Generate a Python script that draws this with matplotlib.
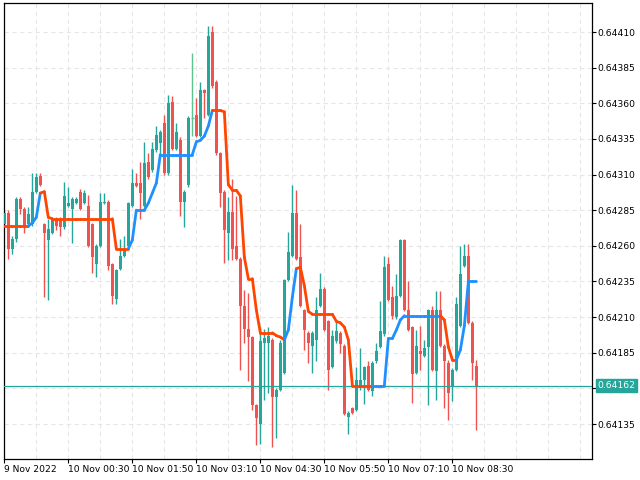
import matplotlib
matplotlib.use("Agg")
import matplotlib.pyplot as plt
import numpy as np
from matplotlib.collections import LineCollection

# ---- data (EURUSD-like M5 bars) ----
opens = [0.64275, 0.64283, 0.64258, 0.64265, 0.64293, 0.64286, 0.64275, 0.64275, 0.64298, 0.64309,
         0.64275, 0.64264, 0.64269, 0.64279, 0.64279, 0.64273, 0.64288, 0.64286, 0.64290, 0.64298,
         0.64290, 0.64288, 0.64275, 0.64247, 0.64260, 0.64290, 0.64291, 0.64247, 0.64223, 0.64244,
         0.64253, 0.64260, 0.64288, 0.64304, 0.64304, 0.64288, 0.64319, 0.64313, 0.64327, 0.64332,
         0.64346, 0.64311, 0.64361, 0.64328, 0.64334, 0.64291, 0.64303, 0.64350, 0.64352, 0.64337,
         0.64369, 0.64352, 0.64410, 0.64375, 0.64325, 0.64298, 0.64269, 0.64284, 0.64260, 0.64251,
         0.64218, 0.64202, 0.64196, 0.64148, 0.64135, 0.64192, 0.64192, 0.64194, 0.64154, 0.64159,
         0.64171, 0.64236, 0.64253, 0.64283, 0.64252, 0.64215, 0.64199, 0.64190, 0.64194, 0.64218,
         0.64230, 0.64207, 0.64175, 0.64193, 0.64199, 0.64190, 0.64140, 0.64146, 0.64145, 0.64160,
         0.64166, 0.64176, 0.64158, 0.64179, 0.64189, 0.64198, 0.64247, 0.64224, 0.64210, 0.64225,
         0.64264, 0.64215, 0.64203, 0.64171, 0.64186, 0.64183, 0.64189, 0.64215, 0.64172, 0.64215,
         0.64190, 0.64178, 0.64162, 0.64173, 0.64204, 0.64246, 0.64253, 0.64206, 0.64176]
highs = [0.64285, 0.64285, 0.64267, 0.64294, 0.64294, 0.64287, 0.64287, 0.64311, 0.64311, 0.64311,
         0.64276, 0.64279, 0.64280, 0.64280, 0.64280, 0.64305, 0.64301, 0.64294, 0.64294, 0.64300,
         0.64299, 0.64296, 0.64276, 0.64261, 0.64297, 0.64297, 0.64292, 0.64248, 0.64244, 0.64265,
         0.64267, 0.64291, 0.64314, 0.64311, 0.64319, 0.64333, 0.64325, 0.64333, 0.64344, 0.64341,
         0.64352, 0.64366, 0.64365, 0.64346, 0.64336, 0.64299, 0.64351, 0.64395, 0.64364, 0.64375,
         0.64370, 0.64414, 0.64414, 0.64376, 0.64326, 0.64299, 0.64294, 0.64307, 0.64295, 0.64252,
         0.64229, 0.64227, 0.64197, 0.64149, 0.64203, 0.64202, 0.64203, 0.64195, 0.64160, 0.64194,
         0.64237, 0.64270, 0.64303, 0.64299, 0.64275, 0.64216, 0.64200, 0.64200, 0.64224, 0.64241,
         0.64231, 0.64208, 0.64201, 0.64207, 0.64200, 0.64191, 0.64144, 0.64147, 0.64175, 0.64188,
         0.64176, 0.64179, 0.64179, 0.64192, 0.64221, 0.64253, 0.64252, 0.64232, 0.64240, 0.64265,
         0.64265, 0.64235, 0.64204, 0.64201, 0.64204, 0.64194, 0.64216, 0.64218, 0.64228, 0.64228,
         0.64191, 0.64180, 0.64174, 0.64224, 0.64260, 0.64261, 0.64261, 0.64207, 0.64180]
lows = [0.64274, 0.64251, 0.64254, 0.64263, 0.64282, 0.64269, 0.64273, 0.64274, 0.64297, 0.64302,
        0.64224, 0.64222, 0.64268, 0.64271, 0.64267, 0.64272, 0.64287, 0.64262, 0.64289, 0.64285,
        0.64289, 0.64259, 0.64241, 0.64238, 0.64259, 0.64289, 0.64243, 0.64219, 0.64219, 0.64243,
        0.64252, 0.64259, 0.64287, 0.64301, 0.64279, 0.64287, 0.64307, 0.64312, 0.64326, 0.64324,
        0.64310, 0.64310, 0.64327, 0.64327, 0.64281, 0.64273, 0.64301, 0.64337, 0.64336, 0.64336,
        0.64350, 0.64351, 0.64371, 0.64324, 0.64287, 0.64248, 0.64250, 0.64250, 0.64250, 0.64173,
        0.64192, 0.64165, 0.64145, 0.64120, 0.64121, 0.64152, 0.64157, 0.64119, 0.64125, 0.64158,
        0.64170, 0.64235, 0.64252, 0.64250, 0.64217, 0.64187, 0.64178, 0.64171, 0.64179, 0.64217,
        0.64200, 0.64159, 0.64174, 0.64192, 0.64185, 0.64141, 0.64128, 0.64142, 0.64144, 0.64159,
        0.64149, 0.64158, 0.64155, 0.64178, 0.64188, 0.64197, 0.64221, 0.64209, 0.64209, 0.64224,
        0.64214, 0.64200, 0.64150, 0.64170, 0.64173, 0.64182, 0.64148, 0.64172, 0.64152, 0.64189,
        0.64146, 0.64138, 0.64151, 0.64172, 0.64203, 0.64245, 0.64205, 0.64166, 0.64131]
closes = [0.64283, 0.64258, 0.64265, 0.64293, 0.64286, 0.64274, 0.64282, 0.64298, 0.64308, 0.64303,
          0.64269, 0.64272, 0.64279, 0.64274, 0.64273, 0.64295, 0.64290, 0.64293, 0.64293, 0.64286,
          0.64297, 0.64260, 0.64252, 0.64260, 0.64291, 0.64291, 0.64246, 0.64225, 0.64243, 0.64253,
          0.64258, 0.64290, 0.64304, 0.64302, 0.64297, 0.64318, 0.64308, 0.64328, 0.64338, 0.64340,
          0.64311, 0.64360, 0.64328, 0.64340, 0.64291, 0.64298, 0.64350, 0.64350, 0.64337, 0.64369,
          0.64367, 0.64407, 0.64372, 0.64325, 0.64297, 0.64271, 0.64284, 0.64258, 0.64251, 0.64218,
          0.64202, 0.64196, 0.64148, 0.64139, 0.64193, 0.64195, 0.64197, 0.64154, 0.64159, 0.64192,
          0.64236, 0.64256, 0.64283, 0.64251, 0.64218, 0.64201, 0.64192, 0.64199, 0.64215, 0.64230,
          0.64201, 0.64173, 0.64197, 0.64200, 0.64191, 0.64142, 0.64143, 0.64143, 0.64166, 0.64166,
          0.64175, 0.64159, 0.64178, 0.64186, 0.64200, 0.64245, 0.64222, 0.64211, 0.64225, 0.64264,
          0.64215, 0.64201, 0.64170, 0.64190, 0.64184, 0.64188, 0.64215, 0.64173, 0.64215, 0.64190,
          0.64179, 0.64157, 0.64173, 0.64219, 0.64240, 0.64253, 0.64206, 0.64178, 0.64162]

# step-like trend indicator, one value per bar
indicator = [0.64274, 0.64274, 0.64274, 0.64274, 0.64274, 0.64274, 0.64274, 0.64276, 0.64280, 0.64297,
             0.64298, 0.64280, 0.64279, 0.64279, 0.64279, 0.64279, 0.64279, 0.64279, 0.64279, 0.64279,
             0.64279, 0.64279, 0.64279, 0.64279, 0.64279, 0.64279, 0.64279, 0.64279, 0.64258, 0.64258,
             0.64258, 0.64258, 0.64264, 0.64285, 0.64285, 0.64285, 0.64290, 0.64297, 0.64304, 0.64324,
             0.64324, 0.64324, 0.64324, 0.64324, 0.64324, 0.64324, 0.64324, 0.64324, 0.64333, 0.64334,
             0.64337, 0.64344, 0.64355, 0.64355, 0.64355, 0.64354, 0.64303, 0.64299, 0.64299, 0.64295,
             0.64252, 0.64237, 0.64237, 0.64215, 0.64199, 0.64199, 0.64199, 0.64199, 0.64197, 0.64196,
             0.64194, 0.64201, 0.64224, 0.64244, 0.64245, 0.64232, 0.64214, 0.64212, 0.64212, 0.64212,
             0.64212, 0.64212, 0.64212, 0.64207, 0.64206, 0.64203, 0.64194, 0.64162, 0.64162, 0.64162,
             0.64162, 0.64162, 0.64162, 0.64162, 0.64162, 0.64162, 0.64195, 0.64195, 0.64201, 0.64208,
             0.64211, 0.64211, 0.64211, 0.64211, 0.64211, 0.64211, 0.64211, 0.64211, 0.64211, 0.64211,
             0.64208, 0.64189, 0.64180, 0.64180, 0.64187, 0.64204, 0.64235, 0.64235, 0.64235]
# trend state per bar as run lengths: d = down (orange), u = up (blue)
trend_runs = [("d", 7), ("u", 3), ("d", 22), ("u", 21), ("d", 18), ("u", 3),
              ("d", 19), ("u", 17), ("d", 4), ("u", 5)]

last_price = 0.64162
time_tick_bars = [0, 16, 32, 48, 64, 80, 96, 112]
time_tick_labels = ["9 Nov 2022", "10 Nov 00:30", "10 Nov 01:50", "10 Nov 03:10",
                    "10 Nov 04:30", "10 Nov 05:50", "10 Nov 07:10", "10 Nov 08:30"]
price_ticks = [0.64135, 0.64160, 0.64185, 0.64210, 0.64235, 0.64260, 0.64285,
               0.64310, 0.64335, 0.64360, 0.64385, 0.64410]

# ---- drawing ----
GREEN = "#26a69a"
RED = "#ef5350"
ORANGE = "#ff4500"
BLUE = "#1e90ff"

O = np.array(opens); H = np.array(highs); L = np.array(lows); C = np.array(closes)
n = len(O)
x = np.arange(n)
trend = "".join(s * k for s, k in trend_runs)

fig = plt.figure(figsize=(6.4, 4.8), dpi=100)
ax = fig.add_axes([3.5 / 640, 21 / 480, 588.5 / 640, 456 / 480])
ax.set_xlim(-0.2, 146.9)
ax.set_ylim(0.6411046, 0.6443035)

# grid
for gx in range(0, 147, 8):
    ax.axvline(gx, color="#e6e6e6", lw=0.8, ls=(0, (4, 3)), zorder=0)
for gy in price_ticks:
    ax.axhline(gy, color="#e6e6e6", lw=0.8, ls=(0, (4, 3)), zorder=0)

cols = []
for o, c in zip(O, C):
    if c > o:
        cols.append(GREEN)
    elif c < o:
        cols.append(RED)
    else:
        cols.append("#5cc48e")

ax.vlines(x, L, H, colors=cols, lw=1.0, zorder=2)
bottoms = np.minimum(O, C)
heights = np.abs(C - O)
ax.bar(x, heights, bottom=bottoms, width=0.75, color=cols, linewidth=0, zorder=3)
doji = heights == 0
ax.hlines(O[doji], x[doji] - 0.4, x[doji] + 0.4, colors="#5cc48e", lw=1.0, zorder=3)

# price line
ax.axhline(last_price, color=GREEN, lw=0.9, zorder=4)

# indicator
segs = [[(i - 1, indicator[i - 1]), (i, indicator[i])] for i in range(1, n)]
seg_cols = [BLUE if trend[i] == "u" else ORANGE for i in range(1, n)]
lc = LineCollection(segs, colors=seg_cols, linewidths=2.0, capstyle="round", zorder=5)
ax.add_collection(lc)

# axes styling
for sp in ax.spines.values():
    sp.set_color("black")
    sp.set_linewidth(0.9)
ax.yaxis.tick_right()
ax.set_yticks(price_ticks)
# the 0.64160 label sits under the last-price box, so it is left blank
ax.set_yticklabels(["" if abs(p - 0.64160) < 1e-9 else f"{p:.5f}" for p in price_ticks])
ax.tick_params(axis="y", direction="out", length=3, width=0.8, labelsize=6.6, pad=1,
               colors="black")
ax.set_xticks(time_tick_bars)
ax.set_xticklabels(time_tick_labels)
ax.tick_params(axis="x", direction="out", length=3, width=0.8, labelsize=6.6, pad=1,
               colors="black")
for lbl in ax.get_xticklabels():
    lbl.set_ha("left")
for lbl in ax.get_yticklabels():
    lbl.set_ha("left")

# last price label
ax.annotate(f"{last_price:.5f}", xy=(1, last_price), xycoords=("axes fraction", "data"),
            xytext=(4, 0), textcoords="offset points", ha="left", va="center",
            fontsize=6.6, color="white", zorder=10, annotation_clip=False,
            bbox=dict(boxstyle="square,pad=0.2", fc=GREEN, ec=GREEN))

fig.savefig("out.png", dpi=100)
